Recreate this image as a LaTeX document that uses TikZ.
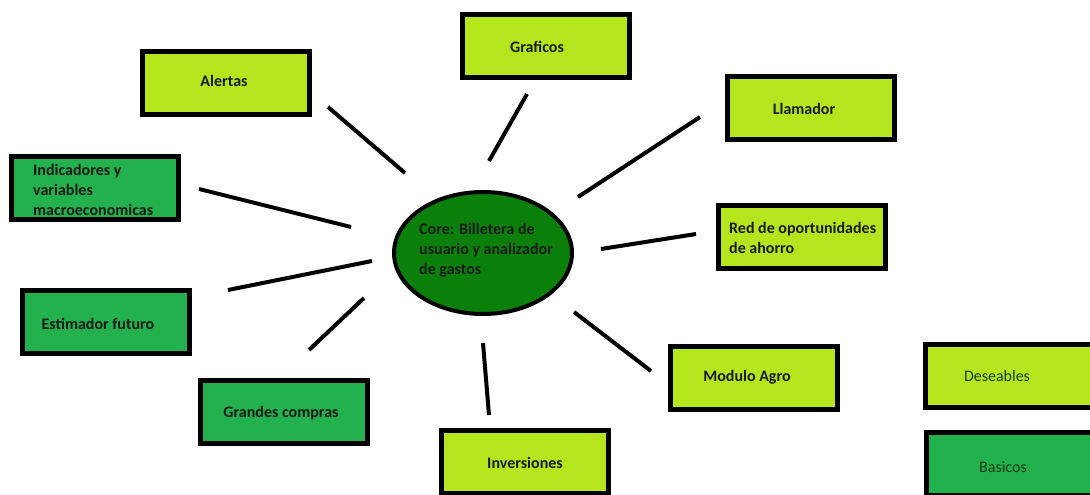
\documentclass[tikz,border=0pt]{standalone}
\usepackage{fontspec}
\setmainfont{Carlito}
\usetikzlibrary{shapes.geometric}
\definecolor{lime}{HTML}{B5E61D}
\definecolor{basic}{HTML}{22B14C}
\definecolor{core}{HTML}{0A800A}
\definecolor{ink}{HTML}{1A1A1A}
\tikzset{
  box/.style={draw=black, line width=5pt, minimum width=167pt, minimum height=63pt, inner sep=0pt},
  want/.style={box, fill=lime},
  need/.style={box, fill=basic},
  txt/.style={font=\fontsize{16}{20}\selectfont\bfseries, text=ink, inner sep=0pt, align=left},
  rtxt/.style={font=\fontsize{16}{20}\selectfont, text=ink!85!green, inner sep=0pt},
  spoke/.style={line width=4pt, line cap=butt}
}
\begin{document}
\begin{tikzpicture}[x=1pt,y=-1pt]
\useasboundingbox (0,0) rectangle (1090,495);
\clip (0,0) rectangle (1090,495);
\fill[white] (0,0) rectangle (1090,495);
% boxes
\node[want] (alertas) at (226,83) {};
\node[want] (graficos) at (546,46.5) {};
\node[want] (llamador) at (811,108) {};
\node[need] (indic) at (95,188) {};
\node[want] (red) at (801.5,236.5) {};
\node[need] (estim) at (106,321.5) {};
\node[need] (grandes) at (284,412) {};
\node[want] (invers) at (525,462) {};
\node[want] (agro) at (754,378) {};
\node[want] (deseables) at (1009,375.5) {};
\node[need] (basicos) at (1010,464) {};
\node[ellipse, draw=black, fill=core, line width=4pt, minimum width=178pt, minimum height=122pt, inner sep=0pt] (core) at (483,253) {};
% texts
\node[txt] (t-alertas) at (224,81) {Alertas};
\node[txt] (t-graficos) at (537,47) {Graficos};
\node[txt] (t-llamador) at (804,109) {Llamador};
\node[txt, anchor=west] (t-indic) at (33,190) {Indicadores y\\variables\\macroeconomicas};
\node[txt, anchor=west] (t-red) at (729,238) {Red de oportunidades\\de ahorro};
\node[txt, anchor=west] (t-core) at (419,250) {Core: Billetera de\\usuario y analizador\\de gastos};
\node[txt] (t-estim) at (98,324) {Estimador futuro};
\node[txt] (t-grandes) at (281,413) {Grandes compras};
\node[txt] (t-invers) at (525,463) {Inversiones};
\node[txt] (t-agro) at (747,377) {Modulo Agro};
\node[rtxt] (t-deseables) at (997,376) {Deseables};
\node[rtxt] (t-basicos) at (1003,467) {Basicos};
% spoke end points
\coordinate (a1) at (328,107); \coordinate (a2) at (405,173);
\coordinate (g1) at (527,94); \coordinate (g2) at (489,161);
\coordinate (l1) at (700,117); \coordinate (l2) at (578,197);
\coordinate (i1) at (199,189); \coordinate (i2) at (351,227);
\coordinate (r1) at (696,234); \coordinate (r2) at (601,249);
\coordinate (e1) at (228,290); \coordinate (e2) at (372,261);
\coordinate (c1) at (309,350); \coordinate (c2) at (364,298);
\coordinate (v1) at (483,343); \coordinate (v2) at (489,415);
\coordinate (m1) at (574,312); \coordinate (m2) at (651,371);
\draw[spoke] (a1) -- (a2);
\draw[spoke] (g1) -- (g2);
\draw[spoke] (l1) -- (l2);
\draw[spoke] (i1) -- (i2);
\draw[spoke] (r1) -- (r2);
\draw[spoke] (e1) -- (e2);
\draw[spoke] (c1) -- (c2);
\draw[spoke] (v1) -- (v2);
\draw[spoke] (m1) -- (m2);
\end{tikzpicture}
\end{document}
